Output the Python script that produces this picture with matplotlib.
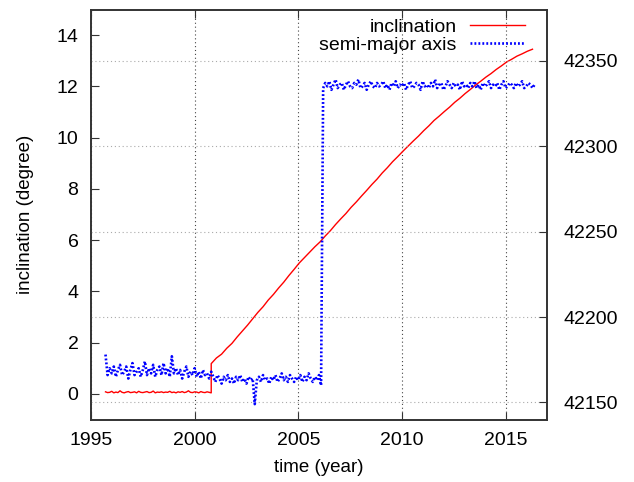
import numpy as np
import matplotlib
import matplotlib.pyplot as plt

matplotlib.use('Agg')
plt.rcParams['font.family'] = ['Liberation Sans', 'DejaVu Sans']

# inclination (degree): quiet period before the manoeuvre stop, then free drift
inc_early = [0.08, 0.05, 0.06, 0.10, 0.04, 0.07, 0.05, 0.12, 0.06, 0.04,
             0.07, 0.09, 0.05, 0.06, 0.08, 0.04, 0.10, 0.06, 0.05, 0.07,
             0.09, 0.05, 0.06, 0.11, 0.04, 0.07, 0.06, 0.08, 0.05, 0.07,
             0.06, 0.10, 0.05, 0.07, 0.04, 0.08, 0.06, 0.09, 0.05, 0.07,
             0.12, 0.06, 0.05, 0.08, 0.07, 0.04, 0.09, 0.06, 0.05, 0.08,
             0.06, 0.04]
inc_late = [1.18, 1.40, 1.55, 1.78, 1.97, 2.22, 2.45, 2.68, 2.93, 3.18,
            3.40, 3.66, 3.88, 4.13, 4.36, 4.62, 4.86, 5.11, 5.32, 5.53,
            5.74, 5.93, 6.16, 6.37, 6.61, 6.83, 7.04, 7.28, 7.49, 7.72,
            7.94, 8.17, 8.38, 8.62, 8.83, 9.06, 9.26, 9.47, 9.67, 9.87,
            10.06, 10.27, 10.46, 10.67, 10.84, 11.02, 11.19, 11.38, 11.54, 11.72,
            11.88, 12.05, 12.20, 12.36, 12.50, 12.66, 12.80, 12.95, 13.06, 13.18,
            13.27, 13.37, 13.45]

# semi-major axis (km)
sma_early = [42178, 42166, 42170, 42167, 42171, 42165, 42169, 42172, 42166, 42168,
             42171, 42164, 42169, 42173, 42166, 42168, 42170, 42165, 42169, 42174,
             42166, 42170, 42167, 42172, 42165, 42169, 42171, 42166, 42173, 42167,
             42170, 42165, 42177, 42167, 42170, 42166, 42169, 42164, 42168, 42171,
             42165, 42168, 42166, 42170, 42165, 42168, 42164, 42169, 42166, 42167,
             42164, 42168, 42165,
             42162, 42166, 42164, 42161, 42165, 42163, 42166, 42162, 42164, 42161,
             42165, 42163, 42166, 42162, 42164, 42161, 42165, 42163, 42164, 42149,
             42163, 42165, 42162, 42166, 42163, 42164, 42161, 42165, 42163, 42166,
             42162, 42164, 42167, 42163, 42165, 42162, 42166, 42164, 42162, 42165,
             42163, 42166, 42162, 42165, 42163, 42167, 42164, 42162, 42165, 42163,
             42166, 42160]
sma_late = [42334, 42337, 42335, 42338, 42333, 42336, 42339, 42334, 42336, 42337,
            42333, 42336, 42338, 42335, 42334, 42337, 42336, 42339, 42334, 42335,
            42337, 42333, 42336, 42338, 42335, 42334, 42337, 42335, 42336, 42338,
            42334, 42336, 42333, 42337, 42335, 42338, 42334, 42336, 42335, 42337,
            42333, 42336, 42338, 42334, 42335, 42337, 42336, 42333, 42338, 42335,
            42336, 42334, 42337, 42335, 42339, 42334, 42336, 42337, 42333, 42335,
            42338, 42336, 42334, 42337, 42335, 42336, 42333, 42338, 42335, 42336,
            42334, 42337, 42335, 42338, 42334, 42336, 42333, 42337, 42335, 42336,
            42338, 42334, 42336, 42335, 42337, 42333, 42336, 42338, 42334, 42335,
            42337, 42336, 42334, 42337, 42335, 42336, 42338, 42334, 42335, 42337,
            42336, 42334, 42336]

inc_t = np.concatenate([np.linspace(1995.7, 2000.8, len(inc_early)),
                        np.linspace(2000.8, 2016.3, len(inc_late))])
inc = np.array(inc_early + inc_late)
sma_t = np.concatenate([np.linspace(1995.7, 2006.1, len(sma_early)),
                        np.linspace(2006.2, 2016.4, len(sma_late))])
sma = np.array(sma_early + sma_late)

x_ticks = [1995, 2000, 2005, 2010, 2015]
y_ticks = [0, 2, 4, 6, 8, 10, 12, 14]
y2_ticks = [42150, 42200, 42250, 42300, 42350]

fig = plt.figure(figsize=(6.34, 4.82), dpi=100)
ax = fig.add_axes([91 / 634, 1 - 419.5 / 482, 456 / 634, 410 / 482])
ax2 = ax.twinx()

l1, = ax.plot(inc_t, inc, color='#ff0000', lw=1.0, label='inclination')
l2, = ax2.plot(sma_t, sma, color='#0000ff', lw=1.9, linestyle=(0, (0.7, 0.8)),
               label='semi-major axis')

ax.set_xlim(1995, 2017)
ax.set_ylim(-1, 15)
ax2.set_ylim(42140, 42380)
ax.set_xticks(x_ticks)
ax.set_yticks(y_ticks)
ax2.set_yticks(y2_ticks)

ax.xaxis.grid(True, linestyle=(0, (1, 2.5)), color='#444444', lw=0.8)
ax2.yaxis.grid(True, linestyle=(0, (1, 2.5)), color='#aaaaaa', lw=0.8)

ax.tick_params(axis='x', direction='in', length=6, top=True, labelsize=14, pad=9,
               color='#333333')
ax.tick_params(axis='y', direction='in', length=6, labelsize=14, pad=9,
               color='#333333')
ax2.tick_params(axis='y', direction='in', length=6, labelsize=14, pad=12,
                color='#333333')
for a in (ax, ax2):
    for s in a.spines.values():
        s.set_color('#333333')
        s.set_linewidth(1.2)

ax.set_xlabel('time (year)', fontsize=13.5, labelpad=7)
ax.set_ylabel('inclination (degree)', fontsize=13.5, labelpad=16)

ax2.legend([l1, l2], ['inclination', 'semi-major axis'], loc='upper right',
           bbox_to_anchor=(0.952, 0.978), frameon=False, markerfirst=False,
           handlelength=2.85, handletextpad=0.67, fontsize=14, borderaxespad=0,
           borderpad=0, labelspacing=0.02)

plt.savefig('out.png', dpi=100)
plt.close()
